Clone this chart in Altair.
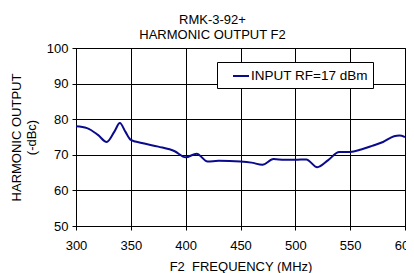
import altair as alt
import pandas as pd

freq = [300, 310, 320, 328, 335, 340, 345, 350, 360, 375, 390, 400, 410, 420, 430,
        450, 460, 470, 480, 490, 500, 510, 520, 530, 540, 550, 560, 570, 580, 590, 595, 600]
harm = [78.0, 77.5, 75.6, 73.6, 76.5, 78.9, 76.5, 74.2, 73.3, 72.3, 71.0, 69.3, 70.3, 68.1, 68.3,
        68.1, 67.8, 67.2, 68.8, 68.6, 68.6, 68.7, 66.5, 68.5, 70.8, 70.8, 71.5, 72.5, 73.6, 75.2, 75.4, 75.0]
series = ["INPUT RF=17 dBm"] * len(freq)

df = pd.DataFrame({"freq": freq, "harm": harm, "series": series})

FONT = "Liberation Sans"

line = alt.Chart(df).mark_line(
    interpolate="monotone", strokeWidth=2, clip=True
).encode(
    x=alt.X("freq:Q",
            scale=alt.Scale(domain=[300, 600], nice=False, zero=False),
            axis=alt.Axis(values=[300, 350, 400, 450, 500, 550, 600],
                          title="F2\u00a0 FREQUENCY (MHz)", titlePadding=8)),
    y=alt.Y("harm:Q",
            scale=alt.Scale(domain=[50, 100], nice=False, zero=False),
            axis=alt.Axis(values=[50, 60, 70, 80, 90, 100],
                          title=["HARMONIC OUTPUT", "(-dBc)"], titlePadding=8)),
    color=alt.Color("series:N",
                    scale=alt.Scale(range=["#0a0a8c"]),
                    legend=alt.Legend(title=None, orient="none", legendX=141, legendY=14,
                                      symbolType="stroke", symbolStrokeWidth=2,
                                      symbolSize=256, symbolOffset=10, labelOffset=1,
                                      labelExpr="datum.label + '\u00a0\u00a0'",
                                      padding=5, fillColor="white", strokeColor="black",
                                      labelFontSize=13.5, labelFont=FONT, labelColor="black")),
)

chart = line.properties(
    width=329, height=178,
    title=alt.TitleParams(["RMK-3-92+", "HARMONIC OUTPUT F2"], anchor="middle",
                          frame="group", dx=-28, fontSize=13, font=FONT,
                          fontWeight="normal", color="black", lineHeight=15.5, offset=0),
    autosize=alt.AutoSizeParams(type="none"),
    padding={"left": 68, "top": 40, "right": 1, "bottom": 50},
).configure_view(
    stroke="black", strokeWidth=1, fill="white"
).configure_axis(
    grid=True, gridColor="black", gridOpacity=1, gridWidth=1,
    domainColor="black", tickColor="black", tickSize=4, labelFlush=False,
    labelFont=FONT, labelFontSize=13, labelColor="black",
    titleFont=FONT, titleFontSize=13, titleFontWeight="normal", titleColor="black",
).configure_axisX(labelPadding=9).configure_axisY(labelPadding=4)

chart.save("out.html", embed_options={"renderer": "svg", "actions": False})
